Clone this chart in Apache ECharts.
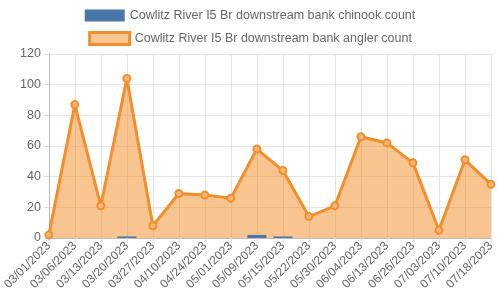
<!DOCTYPE html>
<html>
<head>
<meta charset="utf-8">
<script src="https://cdn.jsdelivr.net/npm/echarts@6/dist/echarts.min.js"></script>
<style>html,body{margin:0;padding:0;background:#fff}#c{width:500px;height:300px}</style>
</head>
<body>
<div id="c"></div>
<script>
var categories = ["03/01/2023","03/06/2023","03/13/2023","03/20/2023","03/27/2023","04/10/2023","04/24/2023","05/01/2023","05/09/2023","05/15/2023","05/22/2023","05/30/2023","06/04/2023","06/13/2023","06/26/2023","07/03/2023","07/10/2023","07/18/2023"];
var chinookCount = [0,0,0,1,0,0,0,0,2,1,0,0,0,0,0,0,0,0];
var anglerCount = [2,87,21,104,8,29,28,26,58,44,14,21,66,62,49,5,51,35];
var yTicks = [0,20,40,60,80,100,120];
var nameChinook = "Cowlitz River I5 Br downstream bank chinook count";
var nameAngler = "Cowlitz River I5 Br downstream bank angler count";

var font = "'Liberation Sans', Arial, sans-serif";
var chart = echarts.init(document.getElementById('c'), null, {renderer:'canvas'});
chart.setOption({
  animation:false,
  textStyle:{fontFamily:font},
  legend:[{
    left:'center', top:9, itemWidth:40, itemHeight:12, padding:[0,5],
    textStyle:{color:'#666', fontSize:12.5, fontFamily:font},
    data:[{name:nameChinook, icon:'rect', itemStyle:{color:'#4a76a8'}}]
  },{
    left:'center', top:31, itemWidth:40, itemHeight:12, padding:[0,5],
    textStyle:{color:'#666', fontSize:12.5, fontFamily:font},
    data:[{name:nameAngler, icon:'rect', itemStyle:{color:'rgba(242,142,43,0.5)', borderColor:'#f28e2b', borderWidth:3}}]
  }],
  grid:{left:48, right:9, top:54, bottom:62},
  xAxis:{
    type:'category', data:categories, boundaryGap:false,
    axisLine:{lineStyle:{color:'#bbb'}},
    axisTick:{show:true, length:5, lineStyle:{color:'#ddd'}},
    splitLine:{show:true, lineStyle:{color:'#e5e5e5'}},
    axisLabel:{rotate:45, color:'#666', fontSize:12, fontFamily:font, interval:0, margin:6}
  },
  yAxis:{
    type:'value', min:0, max:120, interval:20,
    axisLine:{show:true, lineStyle:{color:'#bbb'}},
    axisTick:{show:true, length:5, lineStyle:{color:'#ddd'}},
    splitLine:{show:true, lineStyle:{color:'#e5e5e5'}},
    axisLabel:{color:'#666', fontSize:12.5, fontFamily:font, margin:8,
      formatter:function(v){return yTicks.indexOf(v)>=0?String(v):'';}}
  },
  series:[{
    name:nameAngler, type:'line', data:anglerCount,
    symbol:'circle', symbolSize:7, showSymbol:true,
    lineStyle:{color:'#f28e2b', width:3},
    itemStyle:{color:'#f7b77a', borderColor:'#f28e2b', borderWidth:2},
    areaStyle:{color:'rgba(242,142,43,0.52)', opacity:1}, z:2
  },{
    name:nameChinook, type:'bar', data:chinookCount, barWidth:19,
    itemStyle:{color:'#4a76a8'}, z:3
  }]
});
</script>
</body>
</html>
